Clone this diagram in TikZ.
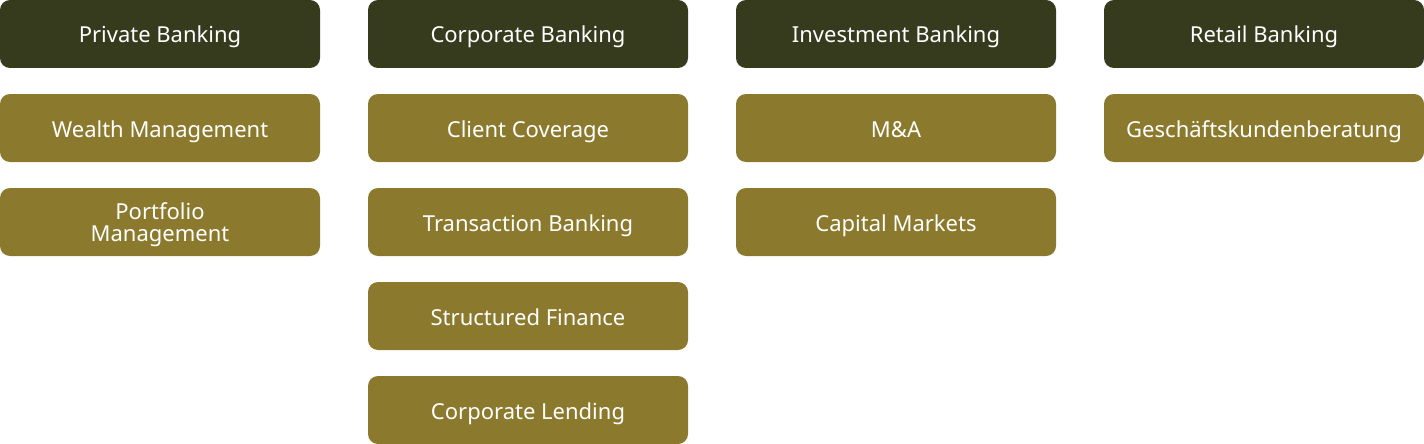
\documentclass[tikz,border=0pt]{standalone}
\usepackage{fontspec}
\setmainfont{Noto Sans}
\usepackage{tikz}
\definecolor{headcol}{HTML}{373B1E}
\definecolor{unitcol}{HTML}{8B7A2D}
\tikzset{
    headbox/.style={fill=headcol, text=white, rounded corners=10pt, minimum width=320pt, minimum height=68pt, inner sep=0pt, align=center, text height=18pt, text depth=0pt, font=\fontsize{22}{22}\selectfont},
    unitbox/.style={headbox, fill=unitcol}
}

\begin{document}
\begin{tikzpicture}[x=1pt, y=-1pt]
    \useasboundingbox (0,0) rectangle (1424,444);
    % heads
    \node[headbox] (pb) at (160,34) {Private Banking};
    \node[headbox] (cb) at (528,34) {Corporate Banking};
    \node[headbox] (ib) at (896,34) {Investment Banking};
    \node[headbox] (rb) at (1264,34) {Retail Banking};
    % private
    \node[unitbox] (wm) at (160,128) {Wealth Management};
    \node[unitbox, text height=38pt] (pm) at (160,222) {Portfolio\\Management};
    % corporate
    \node[unitbox] (cc) at (528,128) {Client Coverage};
    \node[unitbox] (tb) at (528,222) {Transaction Banking};
    \node[unitbox] (sf) at (528,316) {Structured Finance};
    \node[unitbox] (cl) at (528,410) {Corporate Lending};
    % investment
    \node[unitbox] (ma) at (896,128) {M\&A};
    \node[unitbox] (cm) at (896,222) {Capital Markets};
    % retail
    \node[unitbox] (gk) at (1264,128) {Geschäftskundenberatung};
\end{tikzpicture}
\end{document}
